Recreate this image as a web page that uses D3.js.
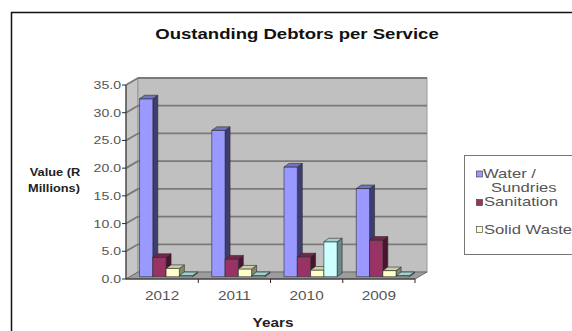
<!DOCTYPE html>
<html>
<head>
<meta charset="utf-8">
<script src="https://cdn.jsdelivr.net/npm/d3@7"></script>
<style>
  html, body { margin: 0; padding: 0; background: #fff; }
  svg { display: block; }
  text { font-family: "Liberation Sans", Arial, sans-serif; }
</style>
</head>
<body>
<svg id="chart" width="572" height="331"></svg>
<script>
// Categories, series and tick values
const years = ["2012", "2011", "2010", "2009"];
const seriesNames = ["Water / Sundries", "Sanitation", "Solid Waste", "Other"];
const waterSundries = [32.1, 26.4, 19.8, 15.9];
const sanitation = [3.5, 3.2, 3.6, 6.6];
const solidWaste = [1.5, 1.4, 1.2, 1.1];
const other = [0.2, 0.2, 6.3, 0.2];
const yTickValues = [0, 5, 10, 15, 20, 25, 30, 35];

const seriesValues = [waterSundries, sanitation, solidWaste, other];
// front, side, top face colours per series
const palette = [
  { front: "#9999ff", side: "#3d3d73", top: "#7373c4" },
  { front: "#993366", side: "#4a1430", top: "#74264d" },
  { front: "#ffffcc", side: "#86866a", top: "#cfcfa4" },
  { front: "#ccffff", side: "#6a8686", top: "#a4cfcf" }
];

const SX = 1.28;            // horizontal text stretch
const svg = d3.select("#chart");

// outer frame
svg.append("rect")
  .attr("x", 11.5).attr("y", 12.5).attr("width", 620).attr("height", 400)
  .attr("fill", "#fff").attr("stroke", "#111").attr("stroke-width", 1.5);

function label(x, y, txt, opts = {}) {
  return svg.append("text")
    .attr("transform", `translate(${x},${y}) scale(${opts.sx || SX},1)`)
    .attr("text-anchor", opts.anchor || "start")
    .attr("font-size", opts.size || 11)
    .attr("font-weight", opts.bold ? "bold" : "normal")
    .attr("fill", opts.color || "#4a4a4a")
    .text(txt);
}

// plot frame (front plane) and depth of walls
const X0 = 126, X1 = 415, Y0 = 279, YT = 85;
const DX = 12, DY = -7;
const F = 0.33;             // depth position of the bar row
const BDX = 5, BDY = -3.5;  // bar depth

const x0 = d3.scaleBand().domain(years).range([X0, X1]);
const x1 = d3.scaleBand().domain(seriesNames).range([0, x0.bandwidth()])
  .paddingInner(0).paddingOuter(0.72);
const y = d3.scaleLinear().domain([0, 35]).range([Y0, YT]);

const poly = pts => pts.map(p => p.join(",")).join(" ");

// walls and floor
svg.append("polygon")
  .attr("points", poly([[X0, Y0], [X0, YT], [X0 + DX, YT + DY], [X0 + DX, Y0 + DY]]))
  .attr("fill", "#c6c6c6").attr("stroke", "#8a8a8a").attr("stroke-width", 1);
svg.append("rect")
  .attr("x", X0 + DX).attr("y", YT + DY)
  .attr("width", X1 - X0).attr("height", Y0 - YT)
  .attr("fill", "#c0c0c0").attr("stroke", "#9a9a9a").attr("stroke-width", 1);
svg.append("polygon")
  .attr("points", poly([[X0, Y0], [X1, Y0], [X1 + DX, Y0 + DY], [X0 + DX, Y0 + DY]]))
  .attr("fill", "#9c9c9c").attr("stroke", "#6e6e6e").attr("stroke-width", 1);

// gridlines on the back and side walls
const grid = svg.append("g").attr("stroke", "#7a7a7a").attr("stroke-width", 1.8);
yTickValues.filter(v => v > 0).forEach(v => {
  grid.append("line")
    .attr("x1", X0 + DX).attr("x2", X1 + DX)
    .attr("y1", y(v) + DY).attr("y2", y(v) + DY);
  grid.append("line")
    .attr("x1", X0).attr("x2", X0 + DX)
    .attr("y1", y(v)).attr("y2", y(v) + DY);
});

// axes
const axis = svg.append("g").attr("stroke", "#2a2a2a").attr("stroke-width", 1);
axis.append("line").attr("x1", X0).attr("x2", X0).attr("y1", YT).attr("y2", Y0);
axis.append("line").attr("x1", X0).attr("x2", X1).attr("y1", Y0).attr("y2", Y0);
yTickValues.forEach(v => {
  axis.append("line").attr("x1", X0 - 4).attr("x2", X0).attr("y1", y(v)).attr("y2", y(v));
});
years.forEach(c => {
  const xe = x0(c) + x0.bandwidth();
  axis.append("line").attr("x1", xe).attr("x2", xe).attr("y1", Y0).attr("y2", Y0 + 4);
});

// y tick labels
yTickValues.forEach(v => {
  label(121, y(v) + 4, d3.format(".1f")(v), { anchor: "end", size: 11, color: "#555" });
});

// category labels
years.forEach(c => {
  label(x0(c) + x0.bandwidth() / 2, 300, c, { anchor: "middle", size: 12, color: "#555" });
});

// 3D columns, drawn left to right within each category
const bars = svg.append("g").attr("stroke", "#2b2b2b").attr("stroke-width", 0.6)
  .attr("stroke-linejoin", "round");
years.forEach((c, ci) => {
  seriesNames.forEach((s, si) => {
    const v = seriesValues[si][ci];
    const col = palette[si];
    const w = x1.bandwidth();
    const xl = x0(c) + x1(s) + F * DX;
    const yb = y(0) + F * DY;
    const yt = y(v) + F * DY;
    bars.append("polygon")
      .attr("points", poly([[xl + w, yt], [xl + w + BDX, yt + BDY], [xl + w + BDX, yb + BDY], [xl + w, yb]]))
      .attr("fill", col.side);
    bars.append("rect")
      .attr("x", xl).attr("y", yt).attr("width", w).attr("height", yb - yt)
      .attr("fill", col.front);
    bars.append("polygon")
      .attr("points", poly([[xl, yt], [xl + BDX, yt + BDY], [xl + w + BDX, yt + BDY], [xl + w, yt]]))
      .attr("fill", col.top);
  });
});

// title and axis titles
label(297, 39, "Oustanding Debtors per Service", { anchor: "middle", size: 14.5, bold: true, color: "#111" });
label(273, 327, "Years", { anchor: "middle", size: 12, bold: true, color: "#222" });
label(55, 176, "Value (R", { anchor: "middle", size: 10, bold: true, color: "#222" });
label(54, 192, "Millions)", { anchor: "middle", size: 10, bold: true, color: "#222" });

// legend
svg.append("rect")
  .attr("x", 464.5).attr("y", 155.5).attr("width", 140).attr("height", 99)
  .attr("fill", "#fff").attr("stroke", "#777").attr("stroke-width", 1);
const legendRows = [
  { si: 0, sy: 174, lines: [[483, 177.5, "Water /"], [491, 192, "Sundries"]] },
  { si: 1, sy: 202.5, lines: [[484, 206, "Sanitation"]] },
  { si: 2, sy: 229.5, lines: [[484, 233.5, "Solid Waste"]] }
];
legendRows.forEach(r => {
  svg.append("rect")
    .attr("x", 476.5).attr("y", r.sy - 3).attr("width", 6).attr("height", 6)
    .attr("fill", palette[r.si].front).attr("stroke", "#333").attr("stroke-width", 0.6);
  r.lines.forEach(([lx, ly, t]) => label(lx, ly, t, { size: 13, color: "#555" }));
});
</script>
</body>
</html>
